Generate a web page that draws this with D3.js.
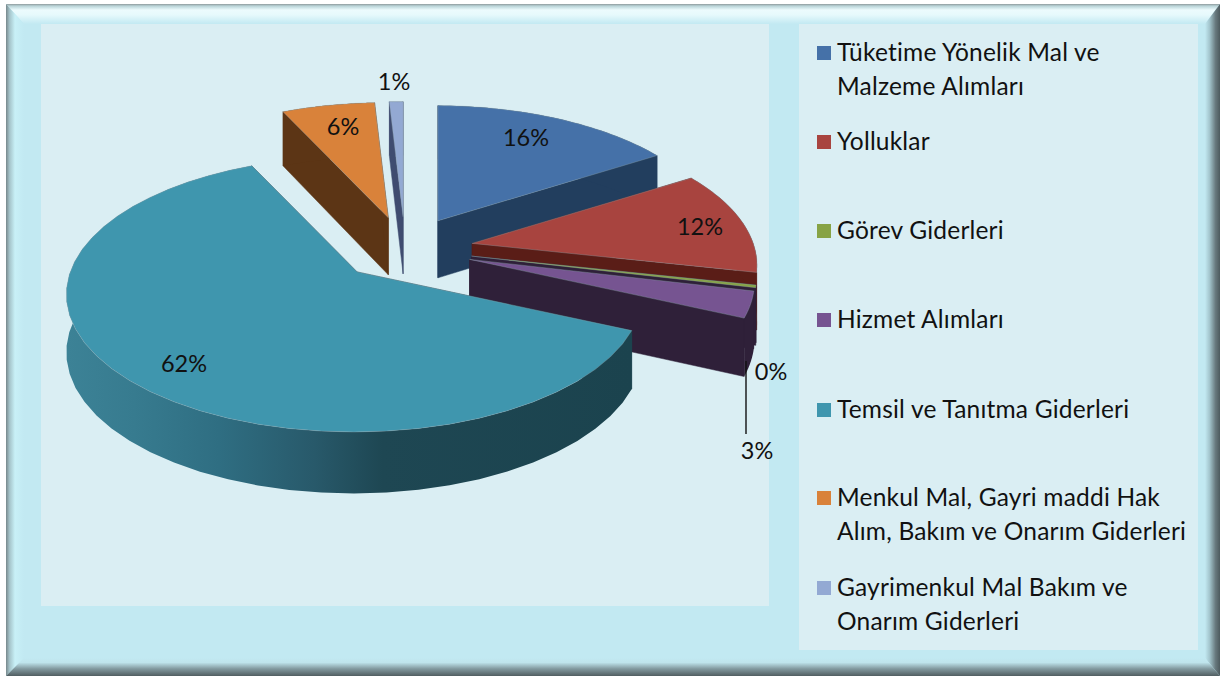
<!DOCTYPE html>
<html><head><meta charset="utf-8">
<script src="https://cdnjs.cloudflare.com/ajax/libs/d3/7.8.5/d3.min.js"></script>
<style>html,body{margin:0;padding:0;background:#fff}svg{display:block}text{font-family:Lato,"Open Sans",sans-serif;fill:#111}</style>
</head><body><svg id="c" width="1221" height="678"></svg>
<script>
// ---- data
const categories = [
  ["Tüketime Yönelik Mal ve","Malzeme Alımları"],
  ["Yolluklar"],
  ["Görev Giderleri"],
  ["Hizmet Alımları"],
  ["Temsil ve Tanıtma Giderleri"],
  ["Menkul Mal, Gayri maddi Hak","Alım, Bakım ve Onarım Giderleri"],
  ["Gayrimenkul Mal Bakım ve","Onarım Giderleri"]
];
const values = [16.1, 12.4, 0.3, 3.1, 61.5, 6.1, 0.9];
const valueLabels = ["16%","12%","0%","3%","62%","6%","1%"];
// ---- styles
const topColors  = ["#4571a8","#a8443f","#87a345","#765491","#3f96ae","#d9823a","#93a9d3"];
const wallColors = ["#223e5e","#5a1d17","#2f2039","#2f2039","#1c4551","#5c3515","#3f4c70"];
const labelAt = [[526,138],[700,227],[771,372],[757,451],[184,364],[343,127],[394,82]];
const legendY = [53,142,231,320,410,498,588];
const paintOrder = [6,5,0,1,2,3,4];

const svg = d3.select("#c"), defs = svg.append("defs");
const W = 1221, H = 678;

// ---- frame
function grad(id, x1,y1,x2,y2, stops){
  const g = defs.append("linearGradient").attr("id",id).attr("gradientUnits","userSpaceOnUse")
    .attr("x1",x1).attr("y1",y1).attr("x2",x2).attr("y2",y2);
  stops.forEach(s=>g.append("stop").attr("offset",s[0]).attr("stop-color",s[1]));
}
const L=6,T=4,R=1220,B=676, iL=24,iT=24,iR=1205,iB=658;
grad("bT",0,T,0,iT,[[0,"#8f9a9c"],[.1,"#b9d4d8"],[.3,"#ecfbfd"],[.55,"#e6f9fc"],[1,"#c2e9f2"]]);
grad("bL",L,0,iL,0,[[0,"#77888c"],[.2,"#a5c4ca"],[.5,"#c8f0f7"],[1,"#c2e9f2"]]);
grad("bR",iR,0,R,0,[[0,"#c2e9f2"],[.3,"#a4c6ce"],[.7,"#68797e"],[1,"#4d5a5e"]]);
grad("bB",0,iB,0,B,[[0,"#c2e9f2"],[.25,"#bfe4ec"],[.6,"#82999f"],[1,"#515e62"]]);
svg.append("rect").attr("x",L).attr("y",T).attr("width",R-L).attr("height",B-T).attr("fill","#c2e9f2");
[["bT",[[L,T],[R,T],[iR,iT],[iL,iT]]],["bL",[[L,T],[iL,iT],[iL,iB],[L,B]]],
 ["bR",[[R,T],[R,B],[iR,iB],[iR,iT]]],["bB",[[L,B],[iL,iB],[iR,iB],[R,B]]]].forEach(b=>
  svg.append("polygon").attr("points",b[1].join(" ")).attr("fill",`url(#${b[0]})`));
svg.append("rect").attr("x",41).attr("y",24).attr("width",728).attr("height",582).attr("fill","#daeef3");
svg.append("rect").attr("x",799).attr("y",24).attr("width",399).attr("height",626).attr("fill","#daeef3");

// ---- projection: unit-disc coordinates to screen pixels through scales
const F = 284, FK = 134, persp = 0.163, skew = 0.01, explode = 0.24, depth = 57;
const sx = d3.scaleLinear().domain([-1,1]).range([405-F,405+F]);
const sy = d3.scaleLinear().domain([-1,1]).range([249+FK,249-FK]);
const pie = d3.pie().sort(null).startAngle(0).endAngle(2*Math.PI);
const arcs = pie(values);

function apex(a){const m=(a.startAngle+a.endAngle)/2;return [explode*Math.sin(m),explode*Math.cos(m)];}
function w(t){return 1/(1+persp*Math.cos(t)+skew*Math.sin(t));}
function rim(a,t){const c=apex(a),k=w(t);return [c[0]+Math.sin(t)*k,c[1]+Math.cos(t)*k,k];}
const P = (p,dropped)=>{
  const k=p[2]===undefined?1:p[2];
  return [sx(p[0]), sy(p[1])+(dropped?depth*(1+0.4*(k-1)):0)];
};
const line = d3.line();

grad("tealSide",67,0,630,0,[[0,"#3c8296"],[.12,"#377b8f"],[.27,"#2f6e82"],[.44,"#28596a"],[.56,"#1e4753"],[1,"#1b434e"]]);

paintOrder.forEach(i=>{
  const a=arcs[i], g=svg.append("g");
  const ts=d3.range(0,41).map(j=>a.startAngle+(a.endAngle-a.startAngle)*j/40);
  const c=apex(a), top=ts.map(t=>rim(a,t));
  const wall = i===4 ? "url(#tealSide)" : wallColors[i];
  const quad=(p)=>g.append("path").attr("d",line([P(c),P(p),P(p,true),P(c,true)])+"Z")
      .attr("fill",wallColors[i]).attr("stroke",wallColors[i]).attr("stroke-width",.5);
  quad(top[0]); quad(top[40]);
  g.append("path").attr("d",line(top.map(p=>P(p)).concat(top.slice().reverse().map(p=>P(p,true))))+"Z")
    .attr("fill",wall);
  g.append("path").attr("d",line([P(c)].concat(top.map(p=>P(p))))+"Z")
    .attr("fill",topColors[i]).attr("stroke","#8fa5ad").attr("stroke-opacity",.45).attr("stroke-width",.8);
});

// ---- leader line + value labels
svg.append("line").attr("x1",746).attr("y1",361).attr("x2",746).attr("y2",434).attr("stroke","#111").attr("stroke-width",1.4);
svg.selectAll("text.v").data(valueLabels).join("text").attr("class","v")
  .attr("x",(d,i)=>labelAt[i][0]).attr("y",(d,i)=>labelAt[i][1]+8)
  .attr("text-anchor","middle").attr("font-size",23.5).text(d=>d);

// ---- legend
categories.forEach((lines,i)=>{
  const y=legendY[i];
  svg.append("rect").attr("x",817).attr("y",y-7).attr("width",14).attr("height",14).attr("fill",topColors[i]);
  lines.forEach((s,j)=>svg.append("text").attr("x",837).attr("y",y+8+j*33.5).attr("font-size",24.5).attr("letter-spacing",.2).text(s));
});
</script></body></html>
